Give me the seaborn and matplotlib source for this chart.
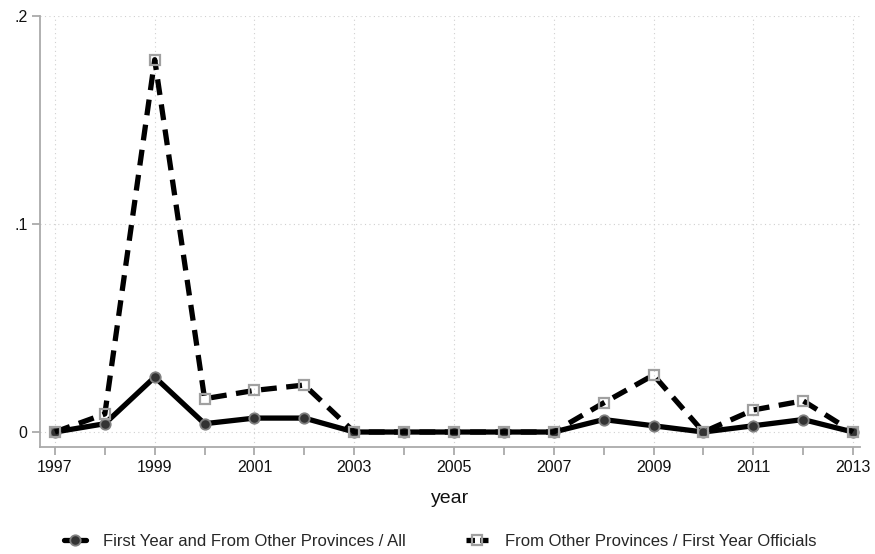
import matplotlib
matplotlib.use("Agg")
import matplotlib.pyplot as plt
from matplotlib.lines import Line2D
import seaborn as sns
import pandas as pd

years = list(range(1997, 2014))
share_all = [0, 0.004, 0.0264, 0.004, 0.0067, 0.0067, 0, 0, 0, 0, 0, 0.006, 0.003, 0, 0.003, 0.006, 0]
share_first = [0, 0.0087, 0.179, 0.016, 0.020, 0.0226, 0, 0, 0, 0, 0, 0.014, 0.0274, 0, 0.0106, 0.015, 0]
label_all = "First Year and From Other Provinces / All"
label_first = "From Other Provinces / First Year Officials"
xtick_labels = list(range(1997, 2014, 2))
ytick_vals = [0, 0.1, 0.2]
ytick_labels = ["0", ".1", ".2"]

sns.set_theme(style="white")
plt.rcParams['font.family'] = ['Liberation Sans', 'DejaVu Sans']

df = pd.DataFrame({"year": years, "all": share_all, "first": share_first})

fig = plt.figure(figsize=(8.75, 5.54), dpi=100)
ax = fig.add_axes([40/875, 1-447/554, (860-40)/875, (447-16)/554])

style_all = dict(color="black", lw=3.8, marker="o", markersize=7.5,
                 markerfacecolor="#333333", markeredgecolor="#808080", markeredgewidth=1.3)
style_first = dict(color="black", lw=3.8, marker="s", markersize=7.5,
                   markerfacecolor="none", markeredgecolor="#a0a0a0", markeredgewidth=1.6)

sns.lineplot(data=df, x="year", y="all", ax=ax, zorder=3, legend=False, **style_all)
sns.lineplot(data=df, x="year", y="first", ax=ax, zorder=3, legend=False, **style_first)
ax.lines[-1].set_dashes((3.0, 1.8))

ax.set_xlim(1996.7, 2013.14)
ax.set_ylim(-0.0072, 0.2)
ax.set_xticks(years, minor=False)
ax.set_xticklabels([str(y) if y in xtick_labels else "" for y in years])
ax.set_yticks(ytick_vals)
ax.set_yticklabels(ytick_labels)
for x in xtick_labels:
    ax.axvline(x, color="#d0d0d0", lw=0.8, ls=(0, (1, 3)), zorder=0)
for y in ytick_vals:
    ax.axhline(y, color="#d0d0d0", lw=0.8, ls=(0, (1, 3)), zorder=0)

for s in ["top", "right"]:
    ax.spines[s].set_visible(False)
for s in ["left", "bottom"]:
    ax.spines[s].set_color("#aaaaaa")
    ax.spines[s].set_linewidth(1.3)
ax.tick_params(axis="both", which="major", length=6, width=1.3, color="#aaaaaa",
               labelsize=11.5, labelcolor="#111111", bottom=True, left=True, pad=3)
ax.set_xlabel("year", fontsize=14, color="#111111", labelpad=11)
ax.set_ylabel("")

h1 = Line2D([], [], **style_all)
h2 = Line2D([], [], ls=(0, (1.6, 1.0)), **style_first)
fig.legend([h1, h2], [label_all, label_first], loc="center", bbox_to_anchor=(0.503, 1-541/554),
           ncol=2, frameon=False, fontsize=12, handlelength=1.35, columnspacing=3.6,
           handletextpad=1.0)

fig.savefig("out.png", dpi=100)
